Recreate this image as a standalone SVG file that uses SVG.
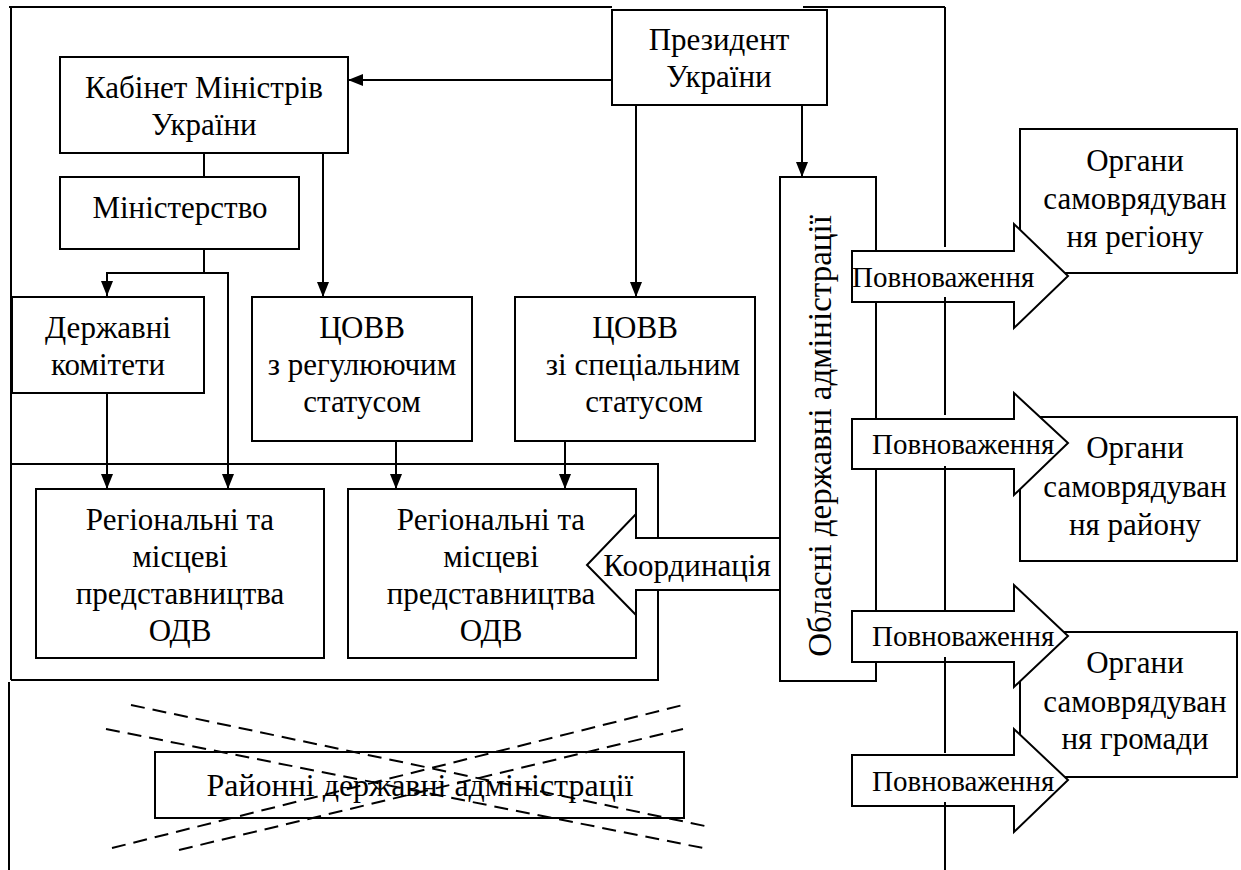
<svg xmlns="http://www.w3.org/2000/svg" width="1241" height="870" viewBox="0 0 1241 870" font-family="Liberation Serif, Times New Roman, serif" font-size="31">
<defs>
<marker id="ah" markerUnits="userSpaceOnUse" viewBox="0 0 15 12" refX="15" refY="6" markerWidth="15" markerHeight="12" orient="auto"><path d="M0,0 L15,6 L0,12 z" fill="#000"/></marker>
</defs>
<style>
.b{fill:#fff;stroke:#000;stroke-width:2}
.l{fill:none;stroke:#000;stroke-width:2}
.a{fill:none;stroke:#000;stroke-width:2;marker-end:url(#ah)}
.d{fill:none;stroke:#000;stroke-width:2;stroke-dasharray:14 8}
.c{text-anchor:middle}
.p{font-size:29px}
</style>
<rect width="1241" height="870" fill="#fff"/>
<g id="frame" class="l">
<path d="M9,7 H612 M803,7 H945 M11,7 V680 M12,464 H658 V680 H11 M9,682 V870"/>
</g>
<g id="connectors">
<path class="a" d="M612,80 H348"/>
<path class="l" d="M204,153 V177"/>
<path class="a" d="M204,249 V273 H107 V296"/>
<path class="a" d="M204,273 H228 V489"/>
<path class="a" d="M323,153 V297"/>
<path class="a" d="M636,105 V297"/>
<path class="a" d="M802,105 V177"/>
<path class="a" d="M107,393 V489"/>
<path class="a" d="M396,441 V489"/>
<path class="a" d="M565,441 V489"/>
</g>
<g id="president"><rect class="b" x="612" y="10" width="215" height="95"/><text class="c" x="719" y="50">Президент</text><text class="c" x="719" y="87">України</text></g>
<g id="cabinet"><rect class="b" x="60" y="57" width="288" height="96"/><text class="c" x="204" y="98">Кабінет Міністрів</text><text class="c" x="204" y="135">України</text></g>
<g id="ministry"><rect class="b" x="60" y="177" width="239" height="72"/><text class="c" x="180" y="218">Міністерство</text></g>
<g id="committees"><rect class="b" x="12" y="297" width="192" height="96"/><text class="c" x="108" y="338">Державні</text><text class="c" x="108" y="375">комітети</text></g>
<g id="covv-reg"><rect class="b" x="252" y="297" width="220" height="144"/><text class="c" x="362" y="338">ЦОВВ</text><text class="c" x="362" y="375">з регулюючим</text><text class="c" x="362" y="412">статусом</text></g>
<g id="covv-spec"><rect class="b" x="515" y="297" width="240" height="144"/><text class="c" x="635" y="338">ЦОВВ</text><text class="c" x="643" y="375">зі спеціальним</text><text class="c" x="644" y="412">статусом</text></g>
<g id="regional1"><rect class="b" x="36" y="489" width="288" height="169"/><text class="c" x="180" y="530">Регіональні та</text><text class="c" x="180" y="567">місцеві</text><text class="c" x="180" y="604">представництва</text><text class="c" x="180" y="641">ОДВ</text></g>
<g id="regional2"><rect class="b" x="348" y="489" width="288" height="169"/><text class="c" x="491" y="530">Регіональні та</text><text class="c" x="491" y="567">місцеві</text><text class="c" x="491" y="604">представництва</text><text class="c" x="491" y="641">ОДВ</text></g>
<g id="coordination"><polygon class="b" points="780,538 636,538 636,514 587,565 636,615 636,590 780,590"/><text class="c" x="687" y="576">Координація</text></g>
<g id="oblast"><rect class="b" x="780" y="177" width="96" height="504"/><text class="c" font-size="33" transform="translate(831,436) rotate(-90)">Обласні державні адміністрації</text></g>
<g id="organ1"><rect class="b" x="1020" y="129" width="217" height="144"/></g>
<g id="organ2"><rect class="b" x="1020" y="417" width="217" height="144"/></g>
<g id="organ3"><rect class="b" x="1020" y="632" width="217" height="145"/></g>
<g id="power1"><polygon class="b" points="852,251 1014,251 1014,224 1068,276 1014,328 1014,302 852,302"/><text class="p" x="852" y="287">Повноваження</text></g>
<g id="power2"><polygon class="b" points="852,419 1014,419 1014,393 1068,443 1014,495 1014,469 852,469"/><text class="p" x="872" y="454">Повноваження</text></g>
<g id="power3"><polygon class="b" points="852,611 1014,611 1014,585 1068,636 1014,687 1014,662 852,662"/><text class="p" x="872" y="646">Повноваження</text></g>
<g id="power4"><polygon class="b" points="852,755 1014,755 1014,729 1068,780 1014,832 1014,806 852,806"/><text class="p" x="872" y="791">Повноваження</text></g>
<g id="organ-text">
<text class="c" x="1135" y="171">Органи</text><text class="c" x="1135" y="209">самоврядуван</text><text class="c" x="1135" y="247">ня регіону</text>
<text class="c" x="1135" y="458">Органи</text><text class="c" x="1135" y="497">самоврядуван</text><text class="c" x="1135" y="535">ня району</text>
<text class="c" x="1135" y="673">Органи</text><text class="c" x="1135" y="712">самоврядуван</text><text class="c" x="1135" y="749">ня громади</text>
</g>
<g id="right-line" class="l"><path d="M945,7 V247 M945,297 V415 M945,466 V610 M945,657 V753 M945,802 V870"/></g>
<g id="district"><rect class="b" x="155" y="752" width="529" height="66"/><text class="c" x="420" y="796" textLength="427" lengthAdjust="spacingAndGlyphs">Районні державні адміністрації</text></g>
<g id="cross" class="d"><path d="M131,705 L705,826 M106,729 L703,848 M112,848 L683,705 M179,850 L683,729"/></g>
</svg>
